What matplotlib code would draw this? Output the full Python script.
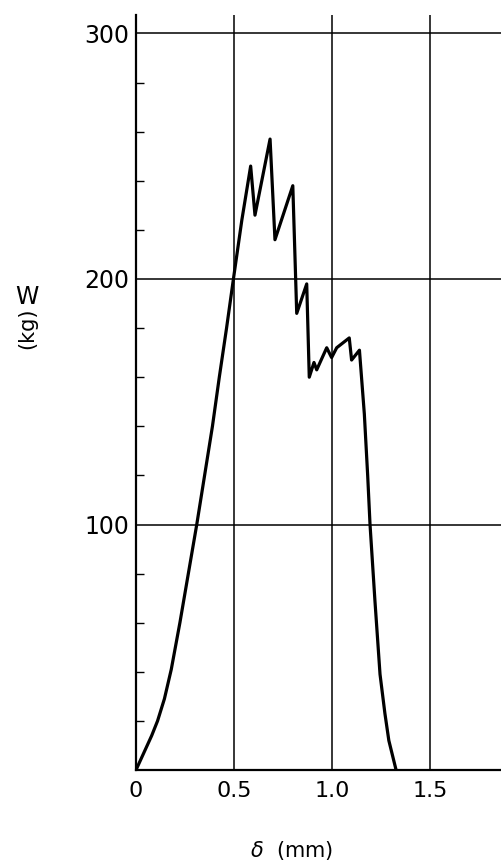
import matplotlib
matplotlib.use("Agg")
import matplotlib.pyplot as plt

# Data (delta in mm, W in kg)
delta = [0.0, 0.04, 0.08, 0.11, 0.145, 0.18, 0.224, 0.267, 0.31, 0.35, 0.39, 0.425,
         0.462, 0.497, 0.54, 0.585, 0.607, 0.684, 0.709, 0.80, 0.82, 0.871, 0.884,
         0.908, 0.922, 0.973, 0.998, 1.024, 1.088, 1.10, 1.14, 1.165, 1.182, 1.194,
         1.219, 1.245, 1.27, 1.29, 1.327]
load = [0, 7, 14, 20, 29, 41, 60, 80, 100, 120, 140, 160,
        180, 200, 224, 246, 226, 257, 216, 238, 186, 198, 160,
        166, 163, 172, 168, 172, 176, 167, 171, 145, 120, 100,
        69, 39, 23, 12, 0]

x_major = [0.5, 1.0, 1.5]
x_labels = ["0", "0.5", "1.0", "1.5"]
x_label_pos = [0.0, 0.5, 1.0, 1.5]
y_major = [100, 200, 300]
y_labels = ["100", "200", "300"]
y_minor = [20, 40, 60, 80, 120, 140, 160, 180, 220, 240, 260, 280]

fam = ["DejaVu Sans"]

fig = plt.figure(figsize=(5.01, 8.68), dpi=100)
ax = fig.add_axes([136/501, 98/868, 365/501, 755/868])
ax.set_xlim(0, 365/196)
ax.set_ylim(0, 755/2.455)

for xv in x_major:
    ax.axvline(xv, color="black", lw=1.1, zorder=1)
for yv in y_major:
    ax.axhline(yv, color="black", lw=1.1, zorder=1)

ax.plot(delta, load, color="black", lw=2.3, solid_joinstyle="round", zorder=3)

for s in ["top", "right"]:
    ax.spines[s].set_visible(False)
for s in ["left", "bottom"]:
    ax.spines[s].set_linewidth(1.6)

ax.set_xticks(x_label_pos)
ax.set_xticklabels(x_labels, family=fam, fontsize=16)
ax.set_yticks(y_major)
ax.set_yticklabels(y_labels, family=fam, fontsize=17)
ax.set_yticks(y_minor, minor=True)
ax.tick_params(axis="x", which="major", length=0, pad=8)
ax.tick_params(axis="y", which="major", length=0, pad=5)
ax.tick_params(axis="y", which="minor", direction="in", length=6, width=1.0)

fig.text(27/501, 1 - 297/868, "W", ha="center", va="center", fontsize=17, family=fam)
fig.text(27/501, 1 - 328/868, "(kg)", ha="center", va="center", fontsize=15,
         rotation=90, family=fam)
fig.text(292/501, 1 - 850/868, r"$\delta$  (mm)", ha="center", va="center", fontsize=15,
         family=fam)

fig.savefig("out.png", dpi=100)
